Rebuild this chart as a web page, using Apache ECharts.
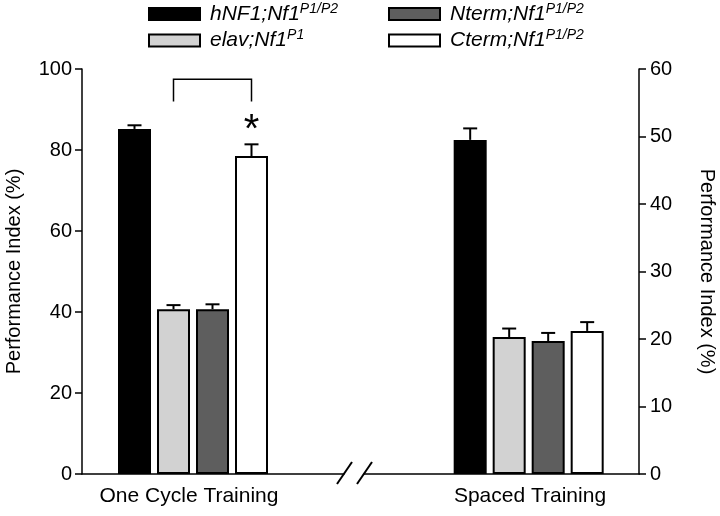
<!DOCTYPE html>
<html><head><meta charset="utf-8">
<script src="https://cdn.jsdelivr.net/npm/echarts@6/dist/echarts.min.js"></script>
<style>html,body{margin:0;padding:0;background:#fff}#c{width:720px;height:516px}</style>
</head><body><div id="c"></div>
<script>
// ---- data ----
const groups = ['One Cycle Training', 'Spaced Training'];
const genotypes = ['hNF1;Nf1', 'elav;Nf1', 'Nterm;Nf1', 'Cterm;Nf1'];
const superscripts = ['P1/P2', 'P1', 'P1/P2', 'P1/P2'];
const barColors = ['#000000', '#d2d2d2', '#5e5e5e', '#ffffff'];
const oneCycleValues = [85.2, 40.7, 40.7, 78.5];
const oneCycleErrors = [0.9, 1.0, 1.2, 2.9];
const spacedValues = [49.5, 20.3, 19.7, 21.2];
const spacedErrors = [1.7, 1.25, 1.2, 1.3];
const leftAxisTicks = [0, 20, 40, 60, 80, 100];
const rightAxisTicks = [0, 10, 20, 30, 40, 50, 60];
const significancePair = [1, 3];      // elav vs Cterm, One Cycle Training
const bracketLevels = [97.5, 92];     // bracket top, bracket feet
const starLevel = [86.7];

// ---- layout / style ----
const FONT = "'Liberation Sans', Arial, Helvetica, sans-serif";
const BAR_W = 33, GAP_PX = 6, GAP_PCT = GAP_PX / BAR_W;
const LEFT_PAD = 34, RIGHT_PAD = 46;
const STAR_SIZE = 40;
function columnCenters(widths) {
  let sum = 0;
  widths.forEach(w => sum += w * (1 + GAP_PCT));
  sum -= widths[widths.length - 1] * GAP_PCT;
  let off = -sum / 2;
  return widths.map(w => { const c = off + w / 2; off += w * (1 + GAP_PCT); return c; });
}
const leftCenters = columnCenters([BAR_W, BAR_W, BAR_W, BAR_W, LEFT_PAD]).slice(0, 4);
const rightCenters = columnCenters([RIGHT_PAD, BAR_W, BAR_W, BAR_W, BAR_W]).slice(1);
const barGap = (GAP_PCT * 100).toFixed(4) + '%';

function barSeries(i, values, xi, yi) {
  return {
    type: 'bar', name: genotypes[i], xAxisIndex: xi, yAxisIndex: yi,
    data: [values[i]], barWidth: BAR_W, barGap: barGap,
    itemStyle: { color: barColors[i], borderColor: '#000', borderWidth: 2 }
  };
}
function padSeries(xi, yi, w) {
  return { type: 'bar', name: '_pad' + xi, xAxisIndex: xi, yAxisIndex: yi, data: [0],
    barWidth: w, barGap: barGap, silent: true,
    itemStyle: { color: 'rgba(0,0,0,0)', borderWidth: 0 } };
}
function errorSeries(xi, yi, values, errors, centers) {
  return {
    type: 'custom', xAxisIndex: xi, yAxisIndex: yi, silent: true, z: 3,
    data: values.map((v, i) => [0, v, v + errors[i], i]),
    encode: { x: 0, y: [1, 2] },
    renderItem: (params, api) => {
      const base = api.coord([api.value(0), api.value(1)]);
      const tip = api.coord([api.value(0), api.value(2)]);
      const x = base[0] + centers[api.value(3)];
      return { type: 'group', children: [
        { type: 'line', shape: { x1: x, y1: base[1], x2: x, y2: tip[1] }, style: { stroke: '#000', lineWidth: 2 } },
        { type: 'line', shape: { x1: x - 7, y1: tip[1], x2: x + 7, y2: tip[1] }, style: { stroke: '#000', lineWidth: 2 } }
      ] };
    }
  };
}
const bracketSeries = {
  type: 'custom', xAxisIndex: 0, yAxisIndex: 0, silent: true, z: 3,
  data: [[0, bracketLevels[0], bracketLevels[1], significancePair[0], significancePair[1], starLevel[0]]],
  encode: { x: 0, y: [1, 2] },
  renderItem: (params, api) => {
    const top = api.coord([0, api.value(1)]);
    const foot = api.coord([0, api.value(2)]);
    const star = api.coord([0, api.value(5)]);
    const xa = top[0] + leftCenters[api.value(3)];
    const xb = top[0] + leftCenters[api.value(4)];
    return { type: 'group', children: [
      { type: 'polyline', shape: { points: [[xa, foot[1]], [xa, top[1]], [xb, top[1]], [xb, foot[1]]] },
        style: { stroke: '#000', lineWidth: 1.5, fill: null } },
      { type: 'text', x: xb, y: star[1] + STAR_SIZE * 0.2,
        style: { text: '*', font: STAR_SIZE + "px " + FONT, fill: '#000', align: 'center', verticalAlign: 'middle' } }
    ] };
  }
};

const legendFormatter = name => '{g|' + name + '}{s|' + superscripts[genotypes.indexOf(name)] + '}';
const legendBase = {
  orient: 'vertical', top: 2, padding: 0, itemWidth: 51, itemHeight: 12, itemGap: 4, icon: 'rect',
  selectedMode: false, formatter: legendFormatter,
  itemStyle: { borderColor: '#000', borderWidth: 2 },
  textStyle: { color: '#000', fontFamily: FONT, rich: {
    g: { fontSize: 21, fontStyle: 'italic', fontFamily: FONT, color: '#000', lineHeight: 24, padding: [0, 0, 0, 5] },
    s: { fontSize: 14, fontStyle: 'italic', fontFamily: FONT, color: '#000', verticalAlign: 'top', lineHeight: 14 }
  } }
};

const axisLineStyle = { color: '#000', width: 1.5 };
const option = {
  animation: false,
  backgroundColor: '#fff',
  legend: [
    Object.assign({}, legendBase, { left: 148, data: [genotypes[0], genotypes[1]] }),
    Object.assign({}, legendBase, { left: 388, data: [genotypes[2], genotypes[3]] })
  ],
  grid: [
    { left: 82, top: 69, width: 262, bottom: 42 },
    { left: 364, top: 69, right: 81, bottom: 42 }
  ],
  xAxis: [
    { gridIndex: 0, type: 'category', data: [groups[0]], axisLine: { lineStyle: axisLineStyle }, axisTick: { show: false },
      axisLabel: { color: '#000', fontSize: 21, fontFamily: FONT, margin: 12, padding: [0, 48, 0, 0] } },
    { gridIndex: 1, type: 'category', data: [groups[1]], axisLine: { lineStyle: axisLineStyle }, axisTick: { show: false },
      axisLabel: { color: '#000', fontSize: 21, fontFamily: FONT, margin: 12, padding: [0, 0, 0, 57] } }
  ],
  yAxis: [
    { gridIndex: 0, type: 'value', position: 'left',
      min: leftAxisTicks[0], max: leftAxisTicks[leftAxisTicks.length - 1], interval: leftAxisTicks[1] - leftAxisTicks[0],
      axisLine: { show: true, lineStyle: axisLineStyle }, axisTick: { show: true, length: 7, lineStyle: { width: 1.5, color: '#000' } },
      splitLine: { show: false }, axisLabel: { color: '#000', fontSize: 20, fontFamily: FONT, margin: 10 },
      name: 'Performance Index (%)', nameLocation: 'middle', nameGap: 58,
      nameTextStyle: { color: '#000', fontSize: 20, fontFamily: FONT } },
    { gridIndex: 1, type: 'value', position: 'right',
      min: rightAxisTicks[0], max: rightAxisTicks[rightAxisTicks.length - 1], interval: rightAxisTicks[1] - rightAxisTicks[0],
      axisLine: { show: true, lineStyle: axisLineStyle }, axisTick: { show: true, length: 7, lineStyle: { width: 1.5, color: '#000' } },
      splitLine: { show: false }, axisLabel: { color: '#000', fontSize: 20, fontFamily: FONT, margin: 11 },
      name: 'Performance Index (%)', nameLocation: 'middle', nameGap: 58, nameRotate: -90,
      nameTextStyle: { color: '#000', fontSize: 20, fontFamily: FONT } }
  ],
  graphic: [
    { type: 'line', shape: { x1: 337, y1: 484, x2: 352, y2: 462 }, style: { stroke: '#000', lineWidth: 2 } },
    { type: 'line', shape: { x1: 357, y1: 484, x2: 372, y2: 462 }, style: { stroke: '#000', lineWidth: 2 } }
  ],
  series: [
    barSeries(0, oneCycleValues, 0, 0), barSeries(1, oneCycleValues, 0, 0),
    barSeries(2, oneCycleValues, 0, 0), barSeries(3, oneCycleValues, 0, 0),
    padSeries(0, 0, LEFT_PAD),
    padSeries(1, 1, RIGHT_PAD),
    barSeries(0, spacedValues, 1, 1), barSeries(1, spacedValues, 1, 1),
    barSeries(2, spacedValues, 1, 1), barSeries(3, spacedValues, 1, 1),
    errorSeries(0, 0, oneCycleValues, oneCycleErrors, leftCenters),
    errorSeries(1, 1, spacedValues, spacedErrors, rightCenters),
    bracketSeries
  ]
};
const chart = echarts.init(document.getElementById('c'), null, { renderer: 'canvas' });
chart.setOption(option);
</script></body></html>
